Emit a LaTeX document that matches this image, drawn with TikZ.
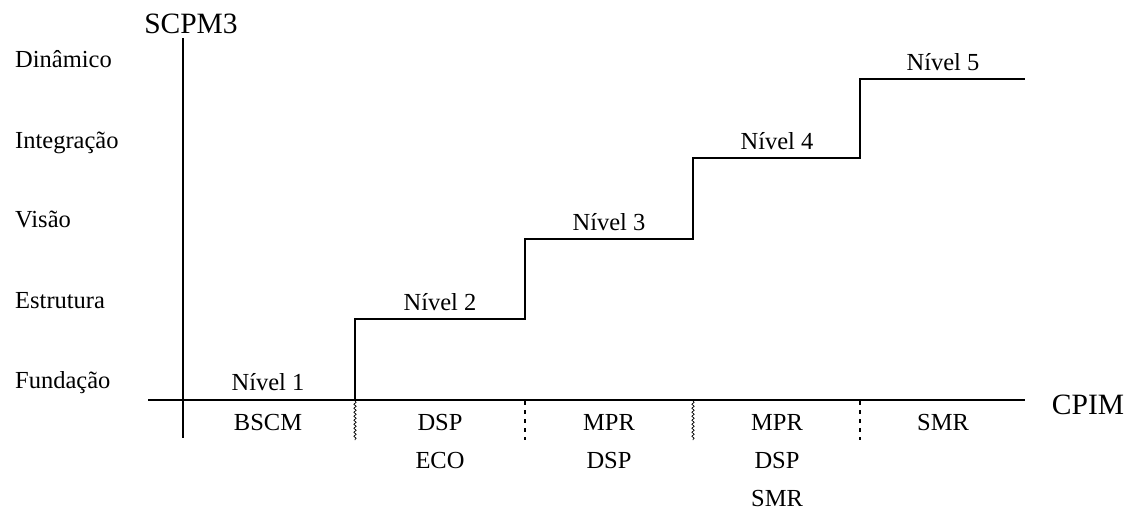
\documentclass[tikz,border=0pt]{standalone}
\usepackage{fontspec}
\setmainfont{Liberation Serif}
\usetikzlibrary{decorations.pathmorphing}
\tikzset{
  lbl/.style={inner sep=0pt, anchor=base, font=\fontsize{24.5}{28}\selectfont},
  leftlbl/.style={lbl, anchor=base west},
  axislbl/.style={inner sep=0pt, anchor=base, font=\fontsize{29.5}{33}\selectfont},
  axisline/.style={line width=2pt},
  stepline/.style={line width=2.4pt},
  wavy/.style={line width=0.7pt, decorate, decoration={snake, amplitude=1.2pt, segment length=4pt}},
  dashdiv/.style={line width=2.2pt, dash pattern=on 4pt off 5pt}
}
\begin{document}
\begin{tikzpicture}[x=1pt,y=-1pt]
\useasboundingbox (0,0) rectangle (1136,512);
% axes
\coordinate (vtop) at (183,38);
\coordinate (vbot) at (183,438);
\coordinate (hl) at (148,400);
\coordinate (hr) at (1025,400);
\draw[axisline] (vtop) -- (vbot);
\draw[axisline] (hl) -- (hr);
\node[axislbl] (scpm) at (191,33) {SCPM3};
\node[axislbl] (cpim) at (1088,414) {CPIM};
% level labels
\node[leftlbl] (din) at (15,67) {Dinâmico};
\node[leftlbl] (int) at (15,148) {Integração};
\node[leftlbl] (vis) at (15,227) {Visão};
\node[leftlbl] (est) at (15,308) {Estrutura};
\node[leftlbl] (fun) at (15,388) {Fundação};
% step line
\coordinate (s0) at (355,400);
\coordinate (s1) at (355,319);
\coordinate (s2) at (525,319);
\coordinate (s3) at (525,239);
\coordinate (s4) at (693,239);
\coordinate (s5) at (693,158);
\coordinate (s6) at (860,158);
\coordinate (s7) at (860,79);
\coordinate (s8) at (1025,79);
\draw[stepline] (s0) -- (s1) -- (s2) -- (s3) -- (s4) -- (s5) -- (s6) -- (s7) -- (s8);
% Nivel labels
\node[lbl] (n1) at (268,390) {Nível 1};
\node[lbl] (n2) at (440,310) {Nível 2};
\node[lbl] (n3) at (609,230) {Nível 3};
\node[lbl] (n4) at (777,149) {Nível 4};
\node[lbl] (n5) at (943,70) {Nível 5};
% dividers
\coordinate (d1t) at (355,401); \coordinate (d1b) at (355,440);
\coordinate (d2t) at (525,401); \coordinate (d2b) at (525,440);
\coordinate (d3t) at (693,401); \coordinate (d3b) at (693,440);
\coordinate (d4t) at (860,401); \coordinate (d4b) at (860,440);
\draw[wavy] (d1t) -- (d1b);
\draw[dashdiv] (d2t) -- (d2b);
\draw[wavy] (d3t) -- (d3b);
\draw[dashdiv] (d4t) -- (d4b);
% bottom labels
\node[lbl] (b1) at (268,430) {BSCM};
\node[lbl] (b2a) at (440,430) {DSP};
\node[lbl] (b2b) at (440,468) {ECO};
\node[lbl] (b3a) at (609,430) {MPR};
\node[lbl] (b3b) at (609,468) {DSP};
\node[lbl] (b4a) at (777,430) {MPR};
\node[lbl] (b4b) at (777,468) {DSP};
\node[lbl] (b4c) at (777,506) {SMR};
\node[lbl] (b5) at (943,430) {SMR};
\end{tikzpicture}
\end{document}
